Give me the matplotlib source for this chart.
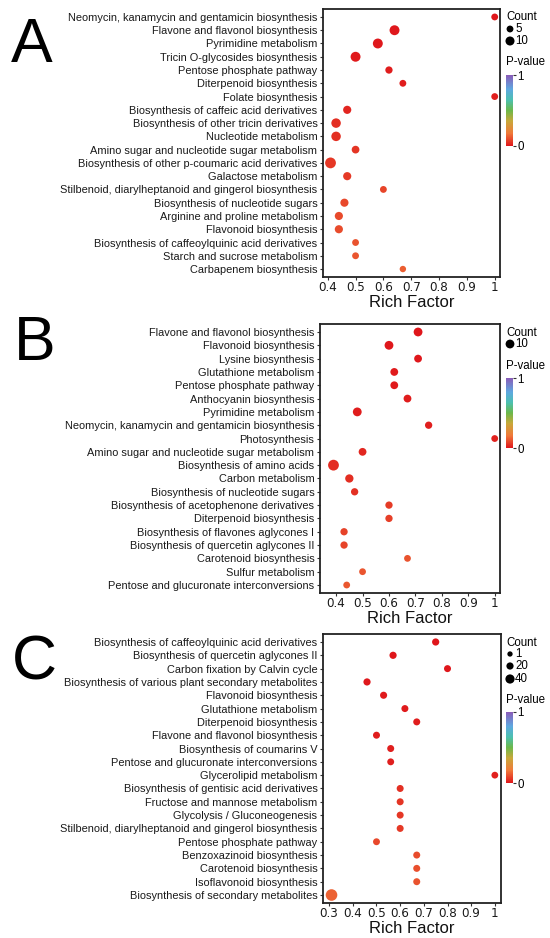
import os
import numpy as np
import matplotlib
matplotlib.use("Agg")
import matplotlib.pyplot as plt
from matplotlib import font_manager
from matplotlib.font_manager import FontProperties
from matplotlib.colors import LinearSegmentedColormap, Normalize
from matplotlib.cm import ScalarMappable

#### dati ####
terms_a = ["Neomycin, kanamycin and gentamicin biosynthesis",
           "Flavone and flavonol biosynthesis",
           "Pyrimidine metabolism",
           "Tricin O-glycosides biosynthesis",
           "Pentose phosphate pathway",
           "Diterpenoid biosynthesis",
           "Folate biosynthesis",
           "Biosynthesis of caffeic acid derivatives",
           "Biosynthesis of other tricin derivatives",
           "Nucleotide metabolism",
           "Amino sugar and nucleotide sugar metabolism",
           "Biosynthesis of other p-coumaric acid derivatives",
           "Galactose metabolism",
           "Stilbenoid, diarylheptanoid and gingerol biosynthesis",
           "Biosynthesis of nucleotide sugars",
           "Arginine and proline metabolism",
           "Flavonoid biosynthesis",
           "Biosynthesis of caffeoylquinic acid derivatives",
           "Starch and sucrose metabolism",
           "Carbapenem biosynthesis"]
rich_a = [1.0, 0.64, 0.58, 0.50, 0.62, 0.67, 1.0, 0.47, 0.43, 0.43,
          0.50, 0.41, 0.47, 0.60, 0.46, 0.44, 0.44, 0.50, 0.50, 0.67]
count_a = [5, 12, 12, 12, 6, 5, 5, 8, 11, 11, 7, 14, 8, 5, 8, 8, 8, 5, 5, 4]
pval_a = [0.002, 0.004, 0.006, 0.009, 0.012, 0.015, 0.018, 0.03, 0.045, 0.05,
          0.055, 0.06, 0.065, 0.085, 0.09, 0.095, 0.10, 0.11, 0.115, 0.13]

terms_b = ["Flavone and flavonol biosynthesis",
           "Flavonoid biosynthesis",
           "Lysine biosynthesis",
           "Glutathione metabolism",
           "Pentose phosphate pathway",
           "Anthocyanin biosynthesis",
           "Pyrimidine metabolism",
           "Neomycin, kanamycin and gentamicin biosynthesis",
           "Photosynthesis",
           "Amino sugar and nucleotide sugar metabolism",
           "Biosynthesis of amino acids",
           "Carbon metabolism",
           "Biosynthesis of nucleotide sugars",
           "Biosynthesis of acetophenone derivatives",
           "Diterpenoid biosynthesis",
           "Biosynthesis of flavones aglycones I",
           "Biosynthesis of quercetin aglycones II",
           "Carotenoid biosynthesis",
           "Sulfur metabolism",
           "Pentose and glucuronate interconversions"]
rich_b = [0.71, 0.60, 0.71, 0.62, 0.62, 0.67, 0.48, 0.75, 1.0, 0.50,
          0.39, 0.45, 0.47, 0.60, 0.60, 0.43, 0.43, 0.67, 0.50, 0.44]
count_b = [10, 10, 8, 8, 8, 8, 10, 7, 6, 8, 14, 9, 7, 7, 7, 7, 7, 6, 6, 6]
pval_b = [0.003, 0.005, 0.007, 0.009, 0.010, 0.012, 0.015, 0.018, 0.02, 0.035,
          0.04, 0.045, 0.05, 0.07, 0.075, 0.08, 0.085, 0.11, 0.115, 0.12]

terms_c = ["Biosynthesis of caffeoylquinic acid derivatives",
           "Biosynthesis of quercetin aglycones II",
           "Carbon fixation by Calvin cycle",
           "Biosynthesis of various plant secondary metabolites",
           "Flavonoid biosynthesis",
           "Glutathione metabolism",
           "Diterpenoid biosynthesis",
           "Flavone and flavonol biosynthesis",
           "Biosynthesis of coumarins V",
           "Pentose and glucuronate interconversions",
           "Glycerolipid metabolism",
           "Biosynthesis of gentisic acid derivatives",
           "Fructose and mannose metabolism",
           "Glycolysis / Gluconeogenesis",
           "Stilbenoid, diarylheptanoid and gingerol biosynthesis",
           "Pentose phosphate pathway",
           "Benzoxazinoid biosynthesis",
           "Carotenoid biosynthesis",
           "Isoflavonoid biosynthesis",
           "Biosynthesis of secondary metabolites"]
rich_c = [0.75, 0.57, 0.80, 0.46, 0.53, 0.62, 0.67, 0.50, 0.56, 0.56,
          1.0, 0.60, 0.60, 0.60, 0.60, 0.50, 0.67, 0.67, 0.67, 0.31]
count_c = [20, 20, 18, 20, 19, 18, 18, 18, 18, 17, 16, 18, 18, 18, 18, 17, 18, 18, 18, 64]
pval_c = [0.001, 0.002, 0.003, 0.004, 0.008, 0.010, 0.012, 0.014, 0.016, 0.018,
          0.02, 0.05, 0.055, 0.06, 0.065, 0.09, 0.10, 0.105, 0.11, 0.14]

legend_a = [5, 10]
legend_b = [10]
legend_c = [1, 20, 40]
#### #### ####

plt.rcParams['font.family'] = ['Liberation Sans', 'DejaVu Sans']

# font stretto per i numeri dell'asse x (se c'e')
narrow_path = None
for pref in ('LiberationSansNarrow-Regular', 'DejaVuSansCondensed.ttf', 'Narrow', 'Condensed'):
    for f in font_manager.fontManager.ttflist:
        base = os.path.basename(f.fname)
        if pref in base and 'Bold' not in base and 'Oblique' not in base and 'Italic' not in base:
            narrow_path = f.fname
            break
    if narrow_path:
        break
if narrow_path:
    tick_fp = FontProperties(fname=narrow_path, size=9.5)
else:
    tick_fp = FontProperties(family='Liberation Sans', size=9)

cmap = LinearSegmentedColormap.from_list('pv', [
    (0.00, '#DF161B'), (0.18, '#F07A3A'), (0.35, '#C8A83A'), (0.50, '#6CB84A'),
    (0.65, '#4CC0B0'), (0.80, '#5EA8E0'), (1.00, '#8A5CB8')])
norm = Normalize(0, 1)

W, H = 550, 938
fig = plt.figure(figsize=(5.5, 9.38), dpi=100)


def box(l, t, r, b):
    return [l / W, 1 - b / H, (r - l) / W, (b - t) / H]


def area(d_px):
    # diametro in pixel -> area del marker in pt^2
    return (np.asarray(d_px, float) * 72.0 / 100.0) ** 2


panels = [
    dict(letter='A', terms=terms_a, rich=rich_a, count=count_a, pval=pval_a,
         leg=legend_a, ax=(323, 9, 500, 277), xlim=(0.383, 1.019),
         xt=np.arange(0.4, 1.01, 0.1), sz=(4, 6.4, 14, 10.8),
         lt=(11, 62), count_y=17, leg_y=[29, 41], pv_y=62, cb=(75, 146)),
    dict(letter='B', terms=terms_b, rich=rich_b, count=count_b, pval=pval_b,
         leg=legend_b, ax=(320, 324, 500, 593), xlim=(0.339, 1.02),
         xt=np.arange(0.4, 1.01, 0.1), sz=(6, 6.8, 14, 10.8),
         lt=(14, 360), count_y=333, leg_y=[344], pv_y=366, cb=(378, 448)),
    dict(letter='C', terms=terms_c, rich=rich_c, count=count_c, pval=pval_c,
         leg=legend_c, ax=(323, 634, 501, 903), xlim=(0.274, 1.026),
         xt=np.arange(0.3, 1.01, 0.1), sz=(1, 5.3, 40, 9.2),
         lt=(12, 679), count_y=643, leg_y=[654, 666, 679], pv_y=700, cb=(712, 783)),
]

ov = fig.add_axes([0, 0, 1, 1], zorder=5)
ov.set_xlim(0, W)
ov.set_ylim(H, 0)
ov.axis('off')

for p in panels:
    c0, d0, c1, d1 = p['sz']
    diam = lambda c: d0 + (d1 - d0) * (np.asarray(c, float) - c0) / (c1 - c0)

    ax = fig.add_axes(box(*p['ax']))
    y = np.arange(len(p['terms']))
    ax.scatter(p['rich'], y, s=area(diam(p['count'])), c=p['pval'],
               cmap=cmap, norm=norm, edgecolors='none', zorder=3)
    ax.set_yticks(y)
    ax.set_yticklabels(p['terms'], fontsize=7.95, color='#1a1a1a')
    ax.set_ylim(len(y) - 0.4, -0.6)
    ax.set_xlim(*p['xlim'])
    ax.set_xticks(p['xt'])
    ax.set_xticklabels(['1' if abs(v - 1) < 1e-6 else '%.1f' % v for v in p['xt']],
                       fontproperties=tick_fp, color='#1a1a1a')
    ax.tick_params(axis='y', length=2.5, width=0.8, pad=1.5, color='#333333')
    ax.tick_params(axis='x', length=2, width=0.8, pad=1, color='#333333')
    ax.set_xlabel('Rich Factor', fontsize=12, labelpad=0.5, color='#111111')
    for sp in ax.spines.values():
        sp.set_linewidth(1.3)
        sp.set_color('#222222')

    # lettera del pannello
    ov.text(p['lt'][0], p['lt'][1], p['letter'], fontsize=45, ha='left', va='baseline')

    # legenda Count
    ov.text(506, p['count_y'], 'Count', fontsize=8.3, ha='left', va='center')
    ov.scatter([510] * len(p['leg']), p['leg_y'], s=area(diam(p['leg'])),
               c='black', edgecolors='none')
    for v, yy in zip(p['leg'], p['leg_y']):
        ov.text(515, yy, str(v), fontsize=8.3, ha='left', va='center')

    # barra colori P-value
    ov.text(506, p['pv_y'], 'P-value', fontsize=8.3, ha='left', va='center')
    t, b = p['cb']
    cax = fig.add_axes(box(506, t, 513, b))
    cb = fig.colorbar(ScalarMappable(norm=norm, cmap=cmap), cax=cax, ticks=[0, 1])
    cb.outline.set_visible(False)
    cb.set_ticklabels(['0', '1'])
    cax.tick_params(length=2, width=0.8, pad=1, labelsize=8.3, color='#333333')

fig.savefig('out.png', dpi=100)
